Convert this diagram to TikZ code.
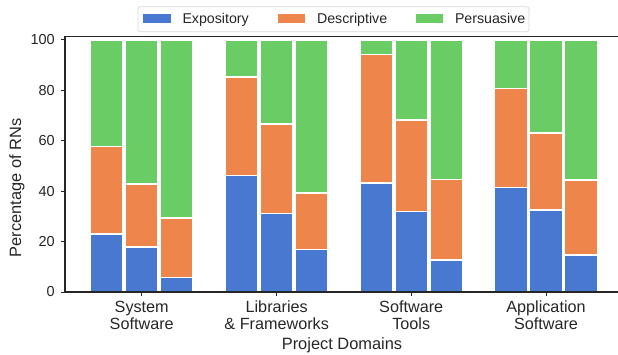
\documentclass[tikz,border=0pt]{standalone}
\usepackage{fontspec}
\setmainfont{Liberation Sans}
\definecolor{expo}{HTML}{4878D0}
\definecolor{desc}{HTML}{EE854A}
\definecolor{pers}{HTML}{6ACC64}
\definecolor{axisgray}{HTML}{262626}

\begin{document}
\begin{tikzpicture}[x=1pt, y=1pt,
        bar/.style={draw=white, line width=1.6pt},
        spine/.style={draw=axisgray, line width=1.1pt},
        tickmark/.style={draw=axisgray, line width=1pt},
        ylab/.style={anchor=east, inner sep=0pt, text=axisgray, font=\fontsize{14.5}{17}\selectfont},
        xlab/.style={anchor=base, align=center, inner sep=0pt, text=axisgray, font=\fontsize{16.2}{16.5}\selectfont},
        axlabel/.style={inner sep=0pt, text=axisgray, font=\fontsize{16.4}{19}\selectfont},
        legtext/.style={anchor=base west, inner sep=0pt, text=axisgray, font=\fontsize{14.2}{17}\selectfont}]
    \useasboundingbox (0,0) rectangle (618,354);

    % stacked bars: centre / expository top / descriptive top
    \begin{scope}[yshift=62pt, y=2.52pt]
        \foreach \xc/\e/\d in {106.7/23.0/57.8, 141.7/17.9/42.9, 176.7/5.8/29.4,
                241.7/46.2/85.4, 276.7/31.1/66.7, 311.7/16.9/39.4,
                376.2/43.3/94.3, 411.2/31.9/68.3, 446.2/12.7/44.7,
                511/41.4/80.7, 546/32.5/63.0, 581/14.7/44.4} {
            \path [bar, fill=expo] (\xc-16.5,0) rectangle (\xc+16.5,\e);
            \path [bar, fill=desc] (\xc-16.5,\e) rectangle (\xc+16.5,\d);
            \path [bar, fill=pers] (\xc-16.5,\d) rectangle (\xc+16.5,100);
        }
        % y ticks
        \foreach \v in {0,20,...,100} {
            \draw [tickmark] (61,\v) -- (65,\v);
            \node [ylab] (y\v) at (55,\v) {\v};
        }
    \end{scope}

    % axes
    \coordinate (origin) at (65,62);
    \coordinate (xend) at (618,62);
    \coordinate (ytop) at (65,317.7);
    \coordinate (topend) at (618,317.7);
    \draw [spine] (ytop) -- (origin) -- (xend);
    \draw [spine] (ytop) -- (topend);

    % x ticks
    \foreach \xc/\name/\lab in {141.7/sys/{System\\Software}, 276.7/lib/{Libraries\\\& Frameworks},
            411.2/tools/{Software\\Tools}, 546/app/{Application\\Software}} {
        \draw [tickmark] (\xc,62) -- (\xc,58);
        \node [xlab] (\name) at (\xc,24.7) {\lab};
    }

    \node [axlabel, anchor=base] (xtitle) at (342,5) {Project Domains};
    \node [axlabel, rotate=90] (ytitle) at (17,166) {Percentage of RNs};

    % legend
    \draw [draw=black!15, fill=white, rounded corners=2.5pt, line width=0.8pt] (138,322.3) rectangle (529,347.3);
    \foreach \px/\col/\txt in {143.3/expo/Expository, 277.8/desc/Descriptive, 415.8/pers/Persuasive} {
        \fill [\col] (\px,331.3) rectangle (\px+27.5,340);
        \node [legtext] (leg\col) at (\px+39,330) {\txt};
    }
\end{tikzpicture}
\end{document}
